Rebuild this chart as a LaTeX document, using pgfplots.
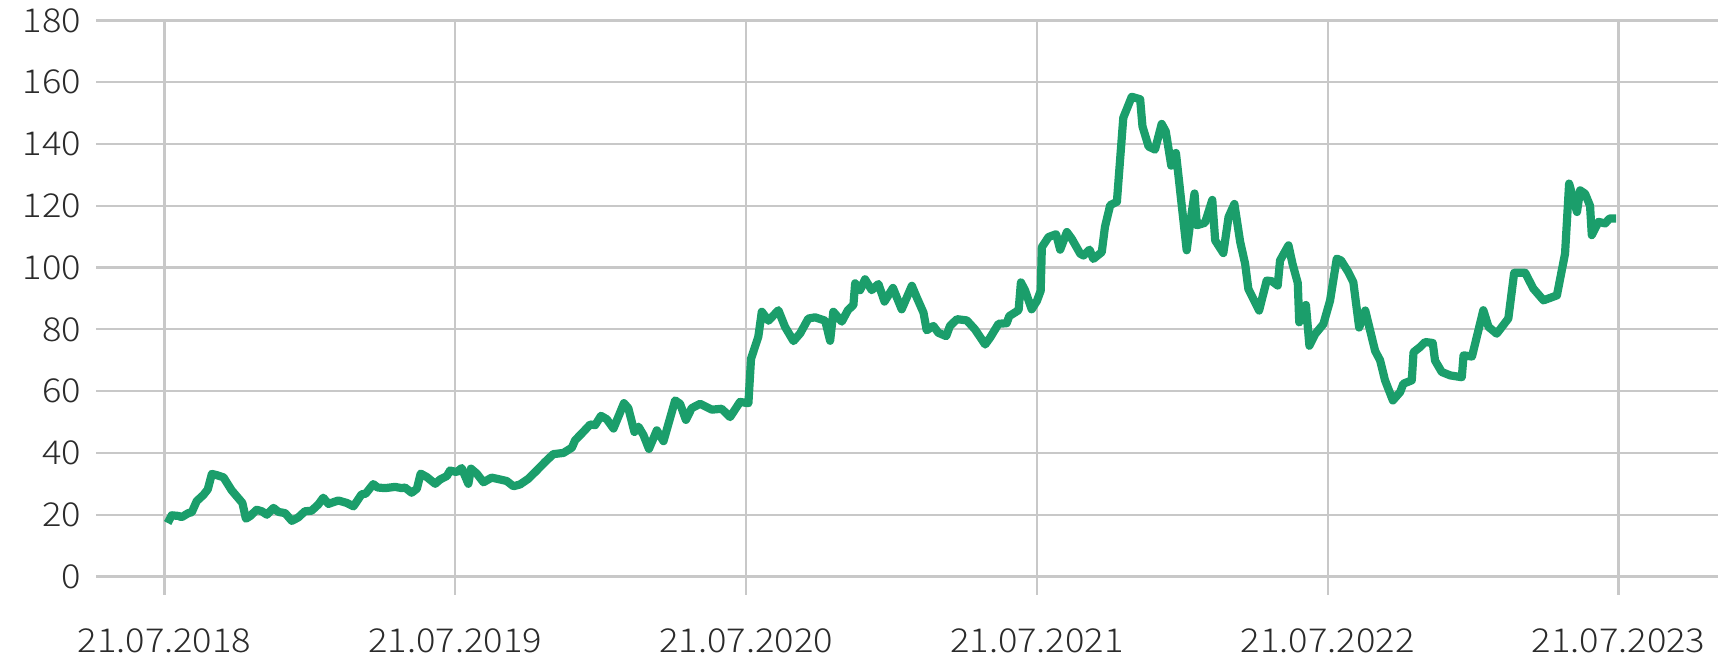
\documentclass[border=0pt]{standalone}
\usepackage{fontspec}
\setmainfont{Noto Sans CJK SC Light}[FakeStretch=1.1]
\usepackage{pgfplots}
\pgfplotsset{compat=1.18}
\definecolor{linegreen}{HTML}{1B9E6B}
\definecolor{gridgray}{HTML}{C8C8C8}
\definecolor{labelgray}{HTML}{2B2B2B}
\begin{document}
\begin{tikzpicture}
\useasboundingbox (0,0) rectangle (859pt,329pt);
\begin{axis}[
  at={(48.2pt,31.5pt)}, anchor=south west,
  width=810.8pt, height=287.25pt, scale only axis,
  xmin=-0.234, xmax=5.342, ymin=-6, ymax=180,
  xtick={0,1,2,3,4,5},
  xticklabels={21.07.2018,21.07.2019,21.07.2020,21.07.2021,21.07.2022,21.07.2023},
  ytick={0,20,...,180},
  grid=major,
  major grid style={line width=1.1pt, color=gridgray},
  axis line style={draw=none},
  tick style={draw=none},
  ticklabel style={font=\fontsize{16.5}{16.5}\selectfont, text=labelgray},
  /pgf/number format/assume math mode=true,
  yticklabel style={xshift=-4.2pt},
  xticklabel style={yshift=-13.5pt},
]
\addplot[linegreen, line width=4.1pt, line join=round, mark=none] coordinates {
(0.011,17.3) (0.025,19.8) (0.048,19.6) (0.059,19.2) (0.082,20.5) (0.094,20.8)
(0.111,24.4) (0.134,26.4) (0.149,28.2) (0.163,33.2) (0.180,32.8) (0.203,32.1)
(0.231,27.9) (0.268,23.8) (0.280,18.7) (0.294,19.5) (0.317,21.6) (0.335,21.1)
(0.352,20.0) (0.375,22.2) (0.392,20.9) (0.415,20.5) (0.438,18.0) (0.460,19.1)
(0.483,21.1) (0.506,21.3) (0.529,23.3) (0.546,25.5) (0.564,23.5) (0.598,24.6)
(0.627,23.8) (0.650,22.7) (0.678,26.6) (0.692,26.8) (0.718,29.9) (0.733,28.8)
(0.759,28.6) (0.793,29.0) (0.816,28.6) (0.827,28.8) (0.850,27.1) (0.868,28.4)
(0.881,33.3) (0.902,32.2) (0.931,30.0) (0.948,31.4) (0.971,32.5) (0.982,34.3)
(1.005,33.8) (1.022,35.1) (1.045,30.0) (1.054,34.9) (1.074,33.3) (1.097,30.5)
(1.125,32.0) (1.154,31.4) (1.177,30.9) (1.200,29.2) (1.223,29.8) (1.251,31.6)
(1.280,34.3) (1.309,37.1) (1.337,39.6) (1.372,40.0) (1.401,41.7) (1.412,44.1)
(1.435,46.3) (1.464,49.2) (1.481,49.0) (1.501,52.0) (1.521,50.9) (1.544,47.9)
(1.580,56.1) (1.595,54.5) (1.616,46.8) (1.630,48.5) (1.647,45.8) (1.666,41.3)
(1.693,47.3) (1.716,43.8) (1.756,57.0) (1.773,55.9) (1.793,50.7) (1.813,54.5)
(1.842,55.9) (1.882,54.0) (1.916,54.3) (1.945,51.6) (1.979,56.5) (2.008,56.1)
(2.017,70.5) (2.042,77.6) (2.054,85.7) (2.077,82.8) (2.111,86.2) (2.134,80.8)
(2.163,76.2) (2.186,78.7) (2.214,83.5) (2.237,83.9) (2.272,82.8) (2.289,76.3)
(2.300,85.7) (2.329,82.5) (2.350,86.2) (2.369,87.9) (2.375,94.9) (2.392,92.7)
(2.409,96.2) (2.432,92.7) (2.455,94.7) (2.476,89.0) (2.505,93.4) (2.535,86.5)
(2.570,94.1) (2.587,90.3) (2.610,85.4) (2.621,79.7) (2.644,81.1) (2.661,78.9)
(2.688,77.8) (2.701,81.1) (2.725,83.3) (2.759,82.9) (2.787,80.0) (2.822,75.1)
(2.839,77.3) (2.868,81.8) (2.896,82.0) (2.905,84.3) (2.937,86.2) (2.945,95.2)
(2.959,92.7) (2.982,86.5) (3.000,89.2) (3.013,92.5) (3.017,106.6) (3.040,109.9)
(3.066,110.8) (3.080,105.8) (3.103,111.5) (3.120,109.3) (3.149,104.5) (3.160,103.9)
(3.181,105.8) (3.194,102.8) (3.223,105.0) (3.234,113.2) (3.252,120.2) (3.275,121.3)
(3.297,148.5) (3.326,155.3) (3.355,154.5) (3.363,145.7) (3.384,139.2) (3.406,138.2)
(3.429,146.5) (3.443,144.1) (3.462,133.0) (3.478,137.1) (3.487,129.5) (3.515,105.6)
(3.527,114.3) (3.542,124.0) (3.550,113.7) (3.578,114.5) (3.603,121.9) (3.613,108.8)
(3.641,104.7) (3.659,116.4) (3.679,120.6) (3.699,108.3) (3.716,101.2) (3.727,93.1)
(3.764,86.1) (3.790,95.8) (3.808,95.6) (3.828,94.2) (3.836,102.3) (3.865,107.2)
(3.879,101.2) (3.897,95.0) (3.902,82.3) (3.925,87.9) (3.937,74.7) (3.957,78.5)
(3.985,81.7) (4.008,89.3) (4.031,102.9) (4.046,102.3) (4.071,98.5) (4.088,95.3)
(4.108,80.6) (4.129,86.1) (4.163,73.0) (4.180,70.0) (4.197,63.5) (4.224,57.0)
(4.249,59.7) (4.260,62.4) (4.289,63.5) (4.295,72.6) (4.318,74.3) (4.335,75.9)
(4.361,75.6) (4.369,69.9) (4.392,66.2) (4.421,65.1) (4.461,64.5) (4.467,71.6)
(4.496,71.2) (4.535,86.2) (4.553,80.8) (4.581,78.6) (4.621,83.5) (4.641,98.3)
(4.679,98.3) (4.707,93.2) (4.742,89.4) (4.788,91.0) (4.816,104.5) (4.830,127.2)
(4.857,118.0) (4.868,125.0) (4.885,123.9) (4.902,120.0) (4.908,110.5) (4.931,114.8)
(4.954,114.3) (4.969,115.9) (4.992,115.9)
};
\end{axis}
\end{tikzpicture}
\end{document}
